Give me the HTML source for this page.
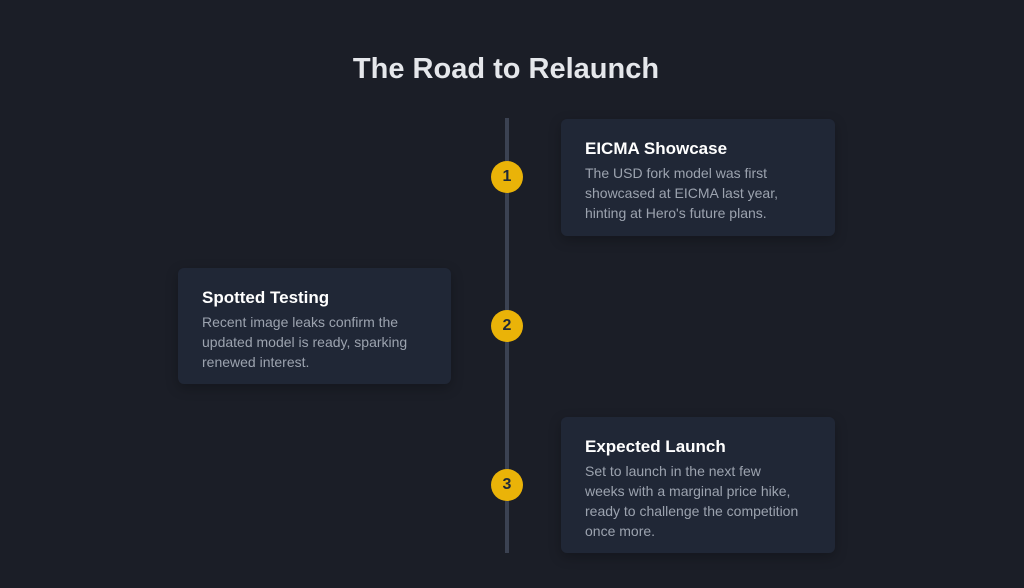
<!DOCTYPE html>
<html><head><style>
body{margin:0;width:1024px;height:588px;background:#1b1e27;font-family:"Liberation Sans",sans-serif;position:relative;overflow:hidden}
h1{position:absolute;top:53px;left:-6px;width:1024px;text-align:center;margin:0;font-size:29px;color:#e5e7eb;font-weight:bold}
.line{position:absolute;left:505px;top:118px;width:4px;height:435px;background:#3b4252}
.card{position:absolute;background:#202736;border-radius:6px;box-sizing:border-box;padding:20px 0 20px 24px;box-shadow:0 4px 12px rgba(0,0,0,.25)}
.card b{display:block;color:#fff;font-size:17px;margin-bottom:4px}
.card p{margin:0;color:#9ca3af;font-size:14px;line-height:20px;white-space:nowrap}
.dot{position:absolute;width:32px;height:32px;border-radius:50%;background:#eab308;color:#1f2937;font-weight:bold;font-size:16px;text-align:center;line-height:32px}
</style></head><body>
<h1>The Road to Relaunch</h1>
<div class="line"></div>
<div class="card" style="left:561px;top:119px;width:274px;height:117px"><b>EICMA Showcase</b><p>The USD fork model was first<br>showcased at EICMA last year,<br>hinting at Hero's future plans.</p></div>
<div class="card" style="left:178px;top:268px;width:273px;height:116px"><b>Spotted Testing</b><p>Recent image leaks confirm the<br>updated model is ready, sparking<br>renewed interest.</p></div>
<div class="card" style="left:561px;top:417px;width:274px;height:136px"><b>Expected Launch</b><p>Set to launch in the next few<br>weeks with a marginal price hike,<br>ready to challenge the competition<br>once more.</p></div>
<div class="dot" style="left:491px;top:161px">1</div>
<div class="dot" style="left:491px;top:310px">2</div>
<div class="dot" style="left:491px;top:469px">3</div>
</body></html>
